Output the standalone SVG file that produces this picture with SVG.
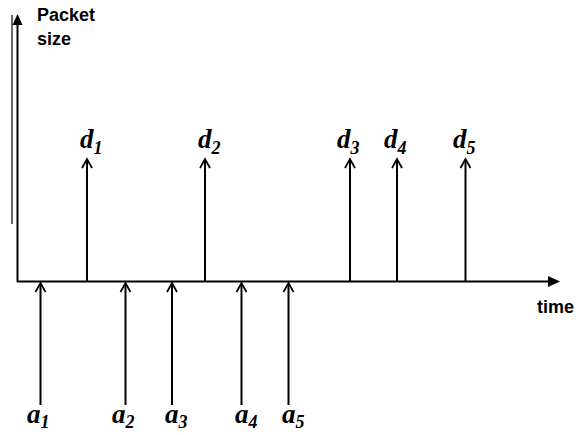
<svg xmlns="http://www.w3.org/2000/svg" width="578" height="435" viewBox="0 0 578 435">
  <style>
    .axis { stroke: #000; stroke-width: 2; fill: none; }
    .tick { stroke: #000; stroke-width: 2; fill: none; }
    .head { stroke: #000; stroke-width: 1.8; fill: none; }
    .lbl { font-family: "Liberation Serif", serif; font-weight: bold; font-style: italic; font-size: 27px; fill: #000; }
    .sub { font-size: 18px; }
    .ax { font-family: "Liberation Sans", Arial, sans-serif; font-weight: bold; font-size: 18px; fill: #000; }
  </style>
  <rect width="578" height="435" fill="#fff"/>

  <g id="axes">
    <line x1="12" y1="15" x2="12" y2="224" stroke="#000" stroke-width="1.2"/>
    <line class="axis" x1="17.5" y1="24" x2="17.5" y2="282"/>
    <polygon points="17.5,14 12.5,25 22.5,25" fill="#000"/>
    <line class="axis" x1="17" y1="281.5" x2="550" y2="281.5"/>
    <polygon points="560,281.5 548,276 548,287" fill="#000"/>
    <text class="ax" x="37" y="21">Packet</text>
    <text class="ax" x="37" y="45">size</text>
    <text class="ax" x="537" y="313">time</text>
  </g>

  <g id="departures">
    <g id="d1">
      <line class="tick" x1="87" y1="281" x2="87" y2="160"/>
      <polyline class="head" points="82,168 87,159 92,168"/>
      <text class="lbl" x="80" y="148">d<tspan class="sub" dy="6">1</tspan></text>
    </g>
    <g id="d2">
      <line class="tick" x1="205" y1="281" x2="205" y2="160"/>
      <polyline class="head" points="200,168 205,159 210,168"/>
      <text class="lbl" x="198" y="148">d<tspan class="sub" dy="6">2</tspan></text>
    </g>
    <g id="d3">
      <line class="tick" x1="350" y1="281" x2="350" y2="160"/>
      <polyline class="head" points="345,168 350,159 355,168"/>
      <text class="lbl" x="337" y="148">d<tspan class="sub" dy="6">3</tspan></text>
    </g>
    <g id="d4">
      <line class="tick" x1="397" y1="281" x2="397" y2="160"/>
      <polyline class="head" points="392,168 397,159 402,168"/>
      <text class="lbl" x="384" y="148">d<tspan class="sub" dy="6">4</tspan></text>
    </g>
    <g id="d5">
      <line class="tick" x1="465.5" y1="281" x2="465.5" y2="160"/>
      <polyline class="head" points="460.5,168 465.5,159 470.5,168"/>
      <text class="lbl" x="453" y="148">d<tspan class="sub" dy="6">5</tspan></text>
    </g>
  </g>

  <g id="arrivals">
    <g id="a1">
      <line class="tick" x1="40.5" y1="405" x2="40.5" y2="284"/>
      <polyline class="head" points="35.5,292 40.5,283 45.5,292"/>
      <text class="lbl" x="27" y="423">a<tspan class="sub" dy="5">1</tspan></text>
    </g>
    <g id="a2">
      <line class="tick" x1="125.5" y1="405" x2="125.5" y2="284"/>
      <polyline class="head" points="120.5,292 125.5,283 130.5,292"/>
      <text class="lbl" x="112" y="423">a<tspan class="sub" dy="5">2</tspan></text>
    </g>
    <g id="a3">
      <line class="tick" x1="172" y1="405" x2="172" y2="284"/>
      <polyline class="head" points="167,292 172,283 177,292"/>
      <text class="lbl" x="165" y="423">a<tspan class="sub" dy="5">3</tspan></text>
    </g>
    <g id="a4">
      <line class="tick" x1="241.5" y1="405" x2="241.5" y2="284"/>
      <polyline class="head" points="236.5,292 241.5,283 246.5,292"/>
      <text class="lbl" x="235" y="423">a<tspan class="sub" dy="5">4</tspan></text>
    </g>
    <g id="a5">
      <line class="tick" x1="288.5" y1="405" x2="288.5" y2="284"/>
      <polyline class="head" points="283.5,292 288.5,283 293.5,292"/>
      <text class="lbl" x="282" y="423">a<tspan class="sub" dy="5">5</tspan></text>
    </g>
  </g>
</svg>
